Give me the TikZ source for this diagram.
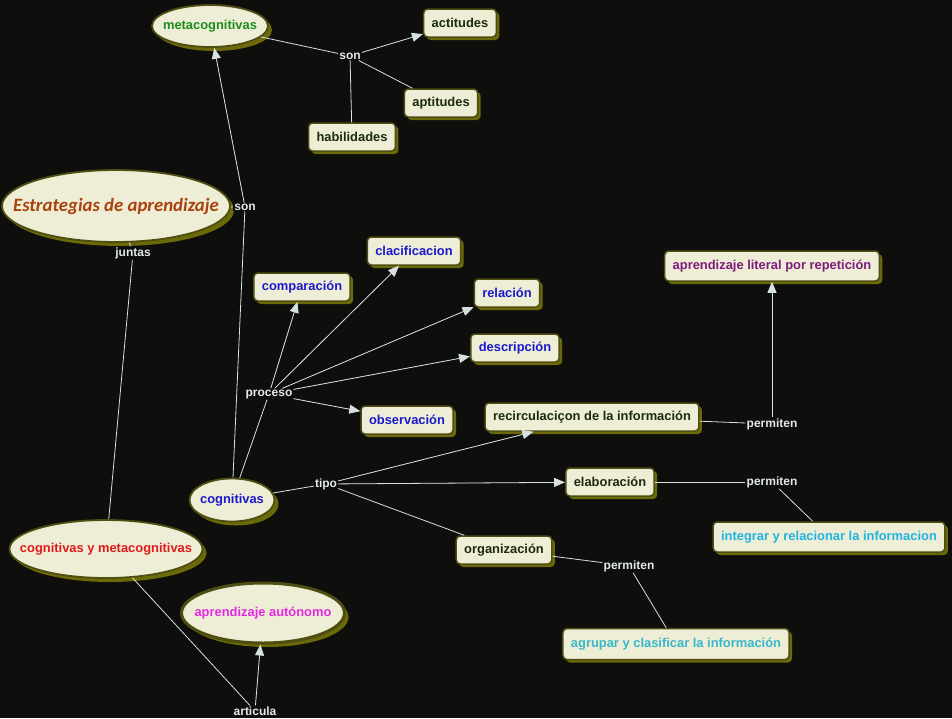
\documentclass[tikz,border=0pt]{standalone}
\usepackage{fontspec}
\setmainfont{Liberation Sans}
\newfontfamily\titulofont{Carlito}
\usepackage{tikz}
\usetikzlibrary{shapes.geometric,arrows.meta,shadows}

\definecolor{fondo}{HTML}{0E0E0C}
\definecolor{crema}{HTML}{EEEDD6}
\definecolor{borde}{HTML}{4E4D12}
\definecolor{sombra}{HTML}{6C6A08}
\definecolor{trazo}{HTML}{D6E0E0}
\definecolor{enl}{HTML}{E2EAEA}
\definecolor{verde}{HTML}{1E8C1E}
\definecolor{oscuro}{HTML}{1C2A14}
\definecolor{azul}{HTML}{1A1ACD}
\definecolor{morado}{HTML}{7D1C7D}
\definecolor{celeste}{HTML}{22B4E0}
\definecolor{turquesa}{HTML}{38B8C8}
\definecolor{rojo}{HTML}{E01A1A}
\definecolor{fucsia}{HTML}{E628E6}
\definecolor{marron}{HTML}{A8420E}

\newcommand{\centro}[1]{\makebox[0pt]{#1}}

\begin{document}
\begin{tikzpicture}[
	x=1pt, y=-1pt,
	font=\fontsize{12.9}{15}\selectfont\bfseries,
	>={Triangle[length=11pt,width=9pt]},
	con/.style={rectangle, rounded corners=4pt, draw=borde, fill=crema, line width=1.5pt, inner xsep=8pt, minimum height=28pt, drop shadow={shadow xshift=3pt, shadow yshift=-3pt, fill=sombra, opacity=1}},
	elip/.style={ellipse, draw=borde, fill=crema, line width=1.8pt, inner sep=0pt, drop shadow={shadow xshift=4pt, shadow yshift=-4pt, fill=sombra, opacity=1}},
	enlace/.style={fill=fondo, text=enl, inner sep=1pt, font=\fontsize{12}{14}\selectfont\bfseries},
	flecha/.style={->, draw=trazo, fill=trazo, line width=0.8pt},
	linea/.style={draw=trazo, line width=0.8pt},
]
\useasboundingbox (0,0) rectangle (952,718);
\fill[fondo] (0,0) rectangle (952,718);

% conceptos
\node[elip, minimum width=228pt, minimum height=72pt, text=marron] (estr) at (116,206) {\centro{\titulofont\fontsize{18.8}{20}\selectfont\bfseries\itshape Estrategias de aprendizaje}};
\node[elip, minimum width=116pt, minimum height=42pt, text=verde] (meta) at (210,26) {\centro{metacognitivas}};
\node[elip, minimum width=85pt, minimum height=43pt, text=azul] (cogn) at (232,500) {\centro{cognitivas}};
\node[elip, minimum width=193pt, minimum height=58pt, text=rojo] (cym) at (106,549) {\centro{cognitivas y metacognitivas}};
\node[elip, minimum width=163pt, minimum height=60pt, line width=3pt, text=fucsia] (auto) at (263,613) {\centro{aprendizaje autónomo}};

\node[con, text=oscuro] (acti) at (460,23) {actitudes};
\node[con, text=oscuro] (apti) at (441,103) {aptitudes};
\node[con, text=oscuro] (habi) at (352,137) {habilidades};

\node[con, text=azul] (clac) at (414,251) {clacificacion};
\node[con, text=azul] (comp) at (302,287) {comparación};
\node[con, text=azul] (rela) at (507,293) {relación};
\node[con, text=azul] (desc) at (515,348) {descripción};
\node[con, text=azul] (obse) at (407,420) {observación};

\node[con, text=oscuro] (reci) at (592,417) {recirculaciçon de la información};
\node[con, text=oscuro] (elab) at (610,482) {elaboración};
\node[con, text=oscuro] (orga) at (504,550) {organización};
\node[con, text=morado, minimum height=30pt] (lite) at (772,266) {aprendizaje literal por repetición};
\node[con, text=celeste, minimum height=30pt] (inte) at (829,537) {integrar y relacionar la informacion};
\node[con, text=turquesa, minimum height=31pt] (agru) at (676,644) {agrupar y clasificar la información};

% enlaces
\node[enlace] (son1) at (350,56) {son};
\node[enlace] (son2) at (245,207) {son};
\node[enlace] (junt) at (133,253) {juntas};
\node[enlace] (proc) at (269,394) {proceso};
\node[enlace] (tipo) at (326,484) {tipo};
\node[enlace] (per1) at (772,424) {permiten};
\node[enlace] (per2) at (772,482) {permiten};
\node[enlace] (per3) at (629,566) {permiten};
\node[enlace] (arti) at (255,711) {articula};

% conectores
\draw[linea] (meta)--(son1); \draw[flecha] (son1)--(acti); \draw[linea] (son1)--(apti); \draw[linea] (son1)--(habi);
\draw[linea] (estr)--(son2); \draw[flecha] (son2)--(meta); \draw[linea] (son2)--(cogn);
\draw[linea] (estr)--(junt); \draw[linea] (junt)--(cym);
\draw[linea] (cogn)--(proc);
\draw[flecha] (proc)--(comp); \draw[flecha] (proc)--(clac); \draw[flecha] (proc)--(rela); \draw[flecha] (proc)--(desc); \draw[flecha] (proc)--(obse);
\draw[linea] (cogn)--(tipo);
\draw[flecha] (tipo)--(reci); \draw[flecha] (tipo)--(elab); \draw[linea] (tipo)--(orga);
\draw[linea] (reci)--(per1); \draw[flecha] (per1)--(lite);
\draw[linea] (elab)--(per2); \draw[linea] (per2)--(inte);
\draw[linea] (orga)--(per3); \draw[linea] (per3)--(agru);
\draw[linea] (cym)--(arti); \draw[flecha] (arti)--(auto);
\end{tikzpicture}
\end{document}
